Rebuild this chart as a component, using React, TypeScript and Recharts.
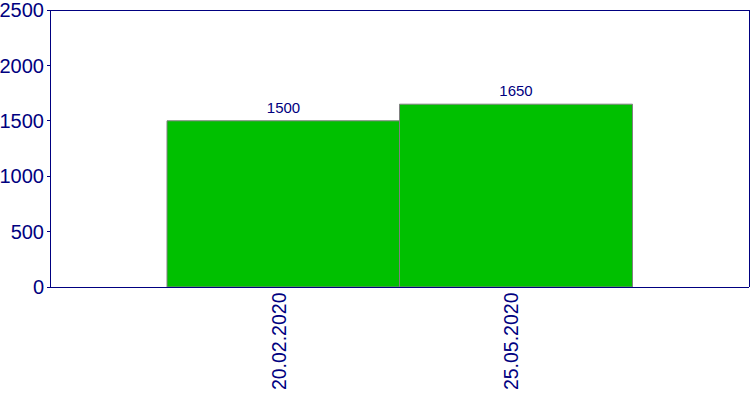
import React from "react";
import { BarChart, Bar, XAxis, YAxis, LabelList } from "recharts";

const dates = ["20.02.2020", "25.05.2020"];
const amounts = [1500, 1650];
const yTicks = [0, 500, 1000, 1500, 2000, 2500];

const NAVY = "#000080";
const FONT = "'Liberation Sans', Arial, sans-serif";

const chartData = dates.map((date, i) => ({ date, amount: amounts[i] }));

const crisp = { stroke: NAVY, shapeRendering: "crispEdges" as const };

function RotatedTick(props: any) {
  const { x, y, payload } = props;
  const ty = y + 5.5;
  return (
    <text
      x={x}
      y={ty}
      dy={2.5}
      transform={`rotate(-90, ${x}, ${ty})`}
      textAnchor="end"
      fill={NAVY}
      fontSize={19.5}
      fontFamily={FONT}
    >
      {payload.value}
    </text>
  );
}

export default function App() {
  return (
    <div style={{ position: "absolute", left: 0, top: 0, width: 750, height: 400, background: "#fff" }}>
      <BarChart
        width={750}
        height={400}
        data={chartData}
        margin={{ top: 9, right: 0, left: 0, bottom: 0 }}
        barCategoryGap={0}
        style={{ fontFamily: FONT }}
      >
        <XAxis
          dataKey="date"
          height={113}
          padding={{ left: 117, right: 117 }}
          axisLine={crisp}
          tickLine={false}
          tickSize={0}
          tickMargin={0}
          tick={<RotatedTick />}
          interval={0}
        />
        <XAxis
          xAxisId="top"
          dataKey="date"
          orientation="top"
          height={1}
          axisLine={crisp}
          tick={false}
          tickLine={false}
        />
        <YAxis
          domain={[0, 2500]}
          ticks={yTicks}
          width={50}
          axisLine={crisp}
          tickLine={crisp}
          tickSize={3}
          tickMargin={3}
          tick={{ fill: NAVY, fontSize: 20, fontFamily: FONT }}
          interval={0}
        />
        <YAxis
          yAxisId="right"
          orientation="right"
          width={1}
          domain={[0, 2500]}
          axisLine={crisp}
          tick={false}
          tickLine={false}
        />
        <Bar dataKey="amount" fill="#00c000" stroke="#808080" strokeWidth={1} isAnimationActive={false}>
          <LabelList
            dataKey="amount"
            position="top"
            offset={8}
            fill={NAVY}
            fontSize={15}
            fontFamily={FONT}
          />
        </Bar>
      </BarChart>
    </div>
  );
}
